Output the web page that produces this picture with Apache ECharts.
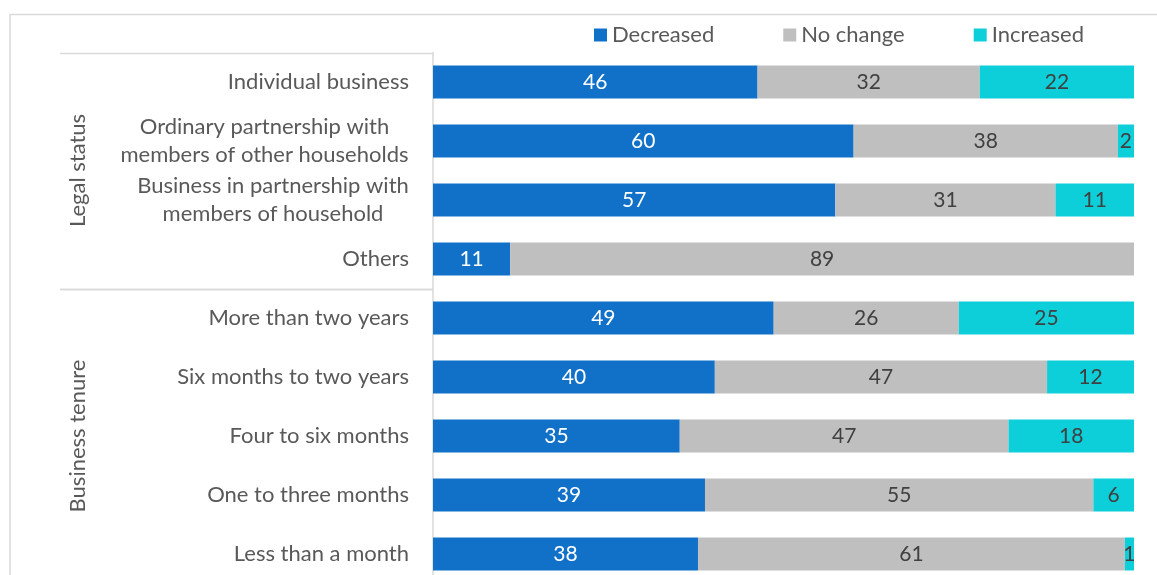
<!DOCTYPE html>
<html><head><meta charset="utf-8">
<script src="https://cdn.jsdelivr.net/npm/echarts@6/dist/echarts.min.js"></script>
<style>html,body{margin:0;padding:0;background:#fff;overflow:hidden;height:575px}#c{width:1157px;height:584px}</style>
</head><body><div id="c"></div>
<script>
const categories = [
  "Individual business",
  "Ordinary partnership with\nmembers of other households",
  "Business in partnership with\nmembers of household",
  "Others",
  "More than two years",
  "Six months to two years",
  "Four to six months",
  "One to three months",
  "Less than a month"
];
const decreased = [46.3, 60.0, 57.4, 11.0, 48.6, 40.2, 35.2, 38.8, 37.8];
const noChange  = [31.7, 37.7, 31.4, 89.0, 26.4, 47.4, 46.9, 55.4, 60.9];
const increased = [22.0, 2.3, 11.2, 0, 25.0, 12.4, 17.9, 5.8, 1.3];
const groups = [
  { name: "Legal status", from: 0, to: 3 },
  { name: "Business tenure", from: 4, to: 8 }
];

const font = "Lato, 'Open Sans', sans-serif";
const catFontSize = 22;

// rich styles so that wrapped labels are centred line by line, block right-aligned
const measureCtx = document.createElement('canvas').getContext('2d');
measureCtx.font = catFontSize + 'px ' + font;
const rich = {};
categories.forEach((c, i) => {
  const w = Math.max(...c.split('\n').map(l => measureCtx.measureText(l).width));
  rich['w' + i] = { width: Math.ceil(w), align: 'center', fontFamily: font, fontSize: catFontSize, color: '#595959', lineHeight: 28 };
});

const chart = echarts.init(document.getElementById('c'), null, { renderer: 'canvas' });

function series(name, data, color, labelColor) {
  return {
    name, type: 'bar', stack: 'total', data, barWidth: 33,
    itemStyle: { color },
    label: {
      show: true, position: 'inside', color: labelColor,
      fontFamily: font, fontSize: 21,
      formatter: p => p.value > 0 ? Math.round(p.value) : ''
    }
  };
}

chart.setOption({
  animation: false,
  backgroundColor: '#fff',
  legend: {
    top: 24, left: 594, padding: 0, itemWidth: 13, itemHeight: 13, itemGap: 69,
    icon: 'rect',
    textStyle: { fontFamily: font, fontSize: 22, color: '#595959' },
    data: ['Decreased', 'No change', 'Increased']
  },
  grid: { left: 433, right: 23, top: 52.5, bottom: 0.5, containLabel: false },
  xAxis: { type: 'value', min: 0, max: 100, show: false },
  yAxis: {
    type: 'category', inverse: true, data: categories,
    axisLine: { show: true, lineStyle: { color: '#D9D9D9', width: 1.5 } },
    axisTick: { show: false },
    axisLabel: {
      fontFamily: font, fontSize: catFontSize, color: '#595959', margin: 24, lineHeight: 28, align: 'right',
      formatter: (v, i) => v.indexOf('\n') >= 0 ? v.split('\n').map(l => '{w' + i + '|' + l + '}').join('\n') : v,
      rich
    }
  },
  series: [
    series('Decreased', decreased, '#1170C8', '#ffffff'),
    series('No change', noChange, '#BFBFBF', '#404040'),
    series('Increased', increased, '#0DCFDA', '#404040')
  ]
});

function drawGroups() {
  const step = chart.convertToPixel({ yAxisIndex: 0 }, categories[1]) - chart.convertToPixel({ yAxisIndex: 0 }, categories[0]);
  const els = [
    { type: 'polyline', shape: { points: [[10, 2000], [10, 14.5], [1157, 14.5]] }, style: { stroke: '#D9D9D9', lineWidth: 1.5, fill: null }, silent: true }
  ];
  groups.forEach(g => {
    const y0 = chart.convertToPixel({ yAxisIndex: 0 }, categories[g.from]) - step / 2;
    const y1 = chart.convertToPixel({ yAxisIndex: 0 }, categories[g.to]) + step / 2;
    els.push({ type: 'line', shape: { x1: 60, y1: Math.round(y0) + 0.5, x2: 433, y2: Math.round(y0) + 0.5 }, style: { stroke: '#D9D9D9', lineWidth: 1.5 }, silent: true });
    els.push({ type: 'line', shape: { x1: 60, y1: Math.round(y1) + 0.5, x2: 433, y2: Math.round(y1) + 0.5 }, style: { stroke: '#D9D9D9', lineWidth: 1.5 }, silent: true });
    els.push({
      type: 'text', x: 78, y: (y0 + y1) / 2, rotation: Math.PI / 2,
      style: { text: g.name, fontFamily: font, fontSize: 22, fill: '#595959', align: 'center', verticalAlign: 'middle' },
      silent: true
    });
  });
  chart.setOption({ graphic: els });
}
drawGroups();
</script></body></html>
